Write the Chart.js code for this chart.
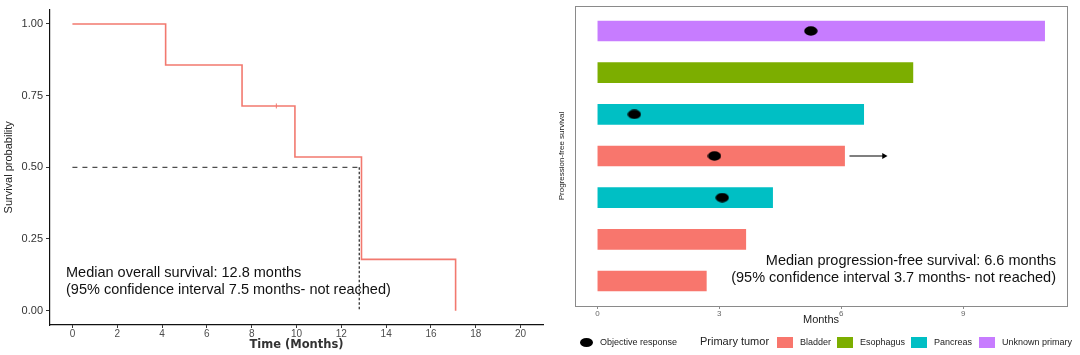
<!DOCTYPE html>
<html>
<head>
<meta charset="utf-8">
<script src="https://cdn.jsdelivr.net/npm/chart.js@4.4.1/dist/chart.umd.min.js"></script>
<style>
  html, body { margin: 0; padding: 0; background: #ffffff; }
  body { width: 1080px; height: 355px; position: relative; overflow: hidden; font-family: "Liberation Sans", Arial, sans-serif; }
  #leftWrap { position: absolute; left: 0; top: 0; width: 545px; height: 355px; }
  #rightWrap { position: absolute; left: 545px; top: 0; width: 535px; height: 355px; }
  .note { position: absolute; font-size: 14.5px; line-height: 17px; color: #111; white-space: nowrap; }
  .leg { position: absolute; white-space: nowrap; color: #222; }
  .sw { position: absolute; width: 16px; height: 11px; top: 337px; }
</style>
</head>
<body>
<div id="leftWrap"><canvas id="km" width="545" height="355"></canvas></div>
<div id="rightWrap"><canvas id="swim" width="535" height="355"></canvas></div>

<div class="note" id="osNote" style="left:66px; top:264px;"></div>
<div class="note" id="pfsNote" style="right:24px; top:252px; text-align:right;"></div>

<div id="legend"></div>

<script>
// ---------------- data ----------------
const osTimes = [0, 4.16, 7.57, 9.93, 12.9, 17.1];
const osSurv = [1.0, 0.857, 0.714, 0.536, 0.179, 0.0];
const osCensorTimes = [9.1];
const osCensorSurv = [0.714];
const osMedian = 12.8;
const osXTicks = [0, 2, 4, 6, 8, 10, 12, 14, 16, 18, 20];
const osYTicks = [0, 0.25, 0.5, 0.75, 1.0];
const osNoteLines = ["Median overall survival: 12.8 months", "(95% confidence interval 7.5 months- not reached)"];

const pfsRows = [1, 2, 3, 4, 5, 6, 7];
const pfsTumor = ["Unknown primary", "Esophagus", "Pancreas", "Bladder", "Pancreas", "Bladder", "Bladder"];
const pfsMonths = [11.0, 7.76, 6.55, 6.08, 4.31, 3.65, 2.68];
const responseRows = [1, 3, 4, 5];
const responseMonths = [5.25, 0.91, 2.88, 3.07];
const arrowRows = [4];
const arrowStart = [6.2];
const arrowEnd = [7.05];
const tumorTypes = ["Bladder", "Esophagus", "Pancreas", "Unknown primary"];
const tumorColors = ["#F8766D", "#7CAE00", "#00BFC4", "#C77CFF"];
const pfsXTicks = [0, 3, 6, 9];
const pfsNoteLines = ["Median progression-free survival: 6.6 months", "(95% confidence interval 3.7 months- not reached)"];

// ---------------- setup ----------------
Chart.defaults.font.family = '"Liberation Sans", Arial, sans-serif';
Chart.defaults.animation = false;

document.getElementById('osNote').innerHTML = osNoteLines.join('<br>');
document.getElementById('pfsNote').innerHTML = pfsNoteLines.join('<br>');

// ---------------- Kaplan-Meier chart ----------------
new Chart(document.getElementById('km'), {
  type: 'scatter',
  data: {
    datasets: [
      {
        label: 'KM',
        data: osTimes.map((t, i) => ({x: t, y: osSurv[i]})),
        showLine: true,
        stepped: 'before',
        borderColor: '#F2796F',
        borderWidth: 1.6,
        pointRadius: 0,
        order: 1
      },
      {
        label: 'censor',
        data: osCensorTimes.map((t, i) => ({x: t, y: osCensorSurv[i]})),
        pointStyle: 'line',
        rotation: 90,
        radius: 2.5,
        borderColor: '#F2796F',
        borderWidth: 1,
        order: 0
      },
      {
        label: 'medianH',
        data: [{x: 0, y: 0.5}, {x: osMedian, y: 0.5}],
        showLine: true,
        borderColor: '#222',
        borderWidth: 1,
        borderDash: [5, 5],
        pointRadius: 0,
        order: 2
      },
      {
        label: 'medianV',
        data: [{x: osMedian, y: 0.5}, {x: osMedian, y: 0}],
        showLine: true,
        borderColor: '#222',
        borderWidth: 1.2,
        borderDash: [2.5, 2],
        pointRadius: 0,
        order: 0
      }
    ]
  },
  options: {
    responsive: false,
    events: [],
    layout: {autoPadding: false, padding: {left: 0, right: 2, top: 7, bottom: 0}},
    plugins: {legend: {display: false}, tooltip: {enabled: false}},
    scales: {
      x: {
        type: 'linear', min: -1, max: 21, offset: false,
        afterBuildTicks: s => { s.ticks = osXTicks.map(v => ({value: v})); },
        afterFit: s => { s.height = 30; },
        grid: {display: true, offset: false, drawOnChartArea: false, drawTicks: true, tickLength: 3, color: '#333'},
        border: {display: true, color: '#111', width: 1.2},
        ticks: {color: '#4d4d4d', font: {size: 10}, padding: 0, maxRotation: 0},
        title: {display: true, text: 'Time (Months)', color: '#333', font: {size: 11.5, weight: 'bold', family: '"DejaVu Sans", sans-serif'}, padding: {top: 0, bottom: 3}}
      },
      y: {
        type: 'linear', min: -0.05, max: 1.05,
        afterBuildTicks: s => { s.ticks = osYTicks.map(v => ({value: v})); },
        afterFit: s => { s.width = 50; },
        grid: {display: true, drawOnChartArea: false, drawTicks: true, tickLength: 4, color: '#333'},
        border: {display: true, color: '#111', width: 1.2},
        ticks: {color: '#333', font: {size: 11}, padding: 3, callback: v => v.toFixed(2)},
        title: {display: true, text: 'Survival probability', color: '#222', font: {size: 11}, padding: {top: 2.4, bottom: 0}}
      }
    }
  }
});

// ---------------- Swimmer chart ----------------
const ell = document.createElement('canvas');
ell.width = 14; ell.height = 10;
(function(){ const c = ell.getContext('2d'); c.fillStyle = '#000'; c.beginPath(); c.ellipse(7, 5, 6.7, 4.7, 0, 0, Math.PI * 2); c.fill(); })();

const barSets = tumorTypes.map((tt, k) => ({
  type: 'bar',
  label: tt,
  indexAxis: 'y',
  grouped: false,
  data: pfsRows.filter((r, i) => pfsTumor[i] === tt).map(r => ({x: pfsMonths[r - 1], y: r})),
  backgroundColor: tumorColors[k],
  borderWidth: 0,
  barThickness: 20,
  order: 3
}));

const framePlugin = {
  id: 'frame',
  afterDraw(chart) {
    const a = chart.chartArea, c = chart.ctx;
    c.save(); c.strokeStyle = '#8a8a8a'; c.lineWidth = 1;
    c.strokeRect(Math.round(a.left) + 0.5, Math.round(a.top) + 0.5, Math.round(a.right - a.left), Math.round(a.bottom - a.top));
    c.restore();
  }
};

new Chart(document.getElementById('swim'), {
  type: 'bar',
  data: {
    datasets: [
      ...barSets,
      {
        type: 'scatter',
        label: 'Objective response',
        data: responseRows.map((r, i) => ({x: responseMonths[i], y: r})),
        pointStyle: ell,
        order: 0
      },
      {
        type: 'line',
        label: 'arrow',
        data: arrowRows.map((r, i) => [{x: arrowStart[i], y: r}, {x: arrowEnd[i], y: r}]).flat(),
        borderColor: '#000',
        borderWidth: 1.2,
        pointRadius: 0,
        order: 1
      },
      {
        type: 'scatter',
        label: 'arrowhead',
        data: arrowRows.map((r, i) => ({x: arrowEnd[i], y: r})),
        pointStyle: 'triangle',
        rotation: 90,
        radius: 3.5,
        backgroundColor: '#000',
        borderColor: '#000',
        borderWidth: 0,
        order: 1
      }
    ]
  },
  options: {
    responsive: false,
    events: [],
    layout: {autoPadding: false, padding: {left: 0, right: 13, top: 6, bottom: 25}},
    plugins: {legend: {display: false}, tooltip: {enabled: false}},
    scales: {
      x: {
        type: 'linear', min: -0.55, max: 11.55, offset: false,
        afterBuildTicks: s => { s.ticks = pfsXTicks.map(v => ({value: v})); },
        afterFit: s => { s.height = 24; },
        grid: {display: true, offset: false, drawOnChartArea: false, drawTicks: true, tickLength: 3, color: '#8a8a8a'},
        border: {display: false},
        ticks: {color: '#666', font: {size: 8}, padding: 0, maxRotation: 0},
        title: {display: true, text: 'Months', color: '#222', font: {size: 11}, padding: {top: 0, bottom: 3.4}}
      },
      y: {
        type: 'linear', min: 0.4, max: 7.6, reverse: true, offset: false,
        afterFit: s => { s.width = 30; },
        grid: {display: false, offset: false},
        border: {display: false},
        ticks: {display: false},
        title: {display: true, text: 'Progression-free survival', color: '#222', font: {size: 8}, padding: {top: 12, bottom: 0}}
      }
    }
  },
  plugins: [framePlugin]
});

// ---------------- legend (HTML) ----------------
const leg = document.getElementById('legend');
function addText(txt, left, size) {
  const d = document.createElement('div');
  d.className = 'leg'; d.textContent = txt;
  d.style.left = left + 'px'; d.style.fontSize = size + 'px';
  d.style.top = (342 - size * 0.6) + 'px'; d.style.lineHeight = (size * 1.2) + 'px';
  leg.appendChild(d);
}
const dot = document.createElement('div');
dot.style.cssText = 'position:absolute;left:580px;top:337.5px;width:13px;height:9px;border-radius:50%;background:#000;';
leg.appendChild(dot);
addText('Objective response', 600, 9);
addText('Primary tumor', 700, 11);
const swLeft = [777, 837, 911, 979];
const txLeft = [800, 860, 934, 1002];
tumorTypes.forEach((tt, k) => {
  const s = document.createElement('div');
  s.className = 'sw'; s.style.left = swLeft[k] + 'px'; s.style.background = tumorColors[k];
  leg.appendChild(s);
  addText(tt, txLeft[k], 9);
});
</script>
</body>
</html>
